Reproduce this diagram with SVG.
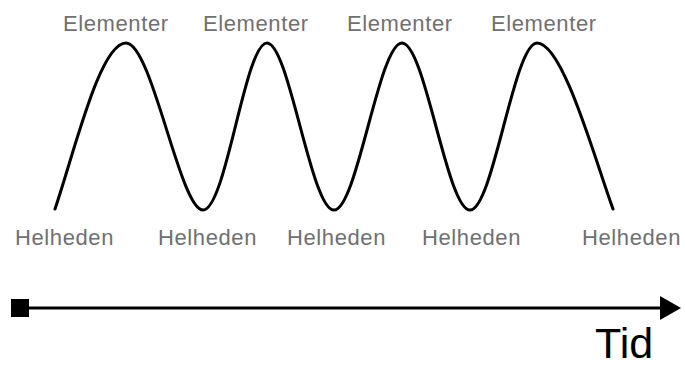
<svg xmlns="http://www.w3.org/2000/svg" width="685" height="370" viewBox="0 0 685 370">
<style>
.lbl{font-family:"Liberation Sans",Arial,sans-serif;font-size:22px;letter-spacing:0.6px;fill:#707070}
.tid{font-family:"Liberation Sans",Arial,sans-serif;font-size:43px;fill:#000}
.wave{fill:none;stroke:#000;stroke-width:3;stroke-linecap:round}
.axis{fill:none;stroke:#000;stroke-width:3}
</style>
<defs>
<marker id="arr" markerWidth="8" markerHeight="8" refX="2" refY="4" orient="auto" markerUnits="strokeWidth">
<path d="M0,0 L7,4 L0,8 Z" fill="#000"/>
</marker>
<marker id="sq" markerWidth="6" markerHeight="6" refX="3" refY="3" orient="auto" markerUnits="strokeWidth">
<rect x="0" y="0" width="6" height="6" fill="#000"/>
</marker>
</defs>
<rect width="685" height="370" fill="#fff"/>
<g id="connectors">
<path id="wave" class="wave" d="M55,209 C75,150 100,43 126,43 C152,43 180,210 203,210 C226,210 245,43 267,43 C289,43 311,210 334,210 C357,210 379,43 402,43 C425,43 447,210 470,210 C493,210 514,43 537,43 C563,43 595,160 613,209"/>
<path id="axis" class="axis" d="M20,308 L666,308" marker-start="url(#sq)" marker-end="url(#arr)"/>
</g>
<g id="elementer1"><text class="lbl" x="63" y="31">Elementer</text></g>
<g id="elementer2"><text class="lbl" x="203" y="31">Elementer</text></g>
<g id="elementer3"><text class="lbl" x="347" y="31">Elementer</text></g>
<g id="elementer4"><text class="lbl" x="491" y="31">Elementer</text></g>
<g id="helheden1"><text class="lbl" x="15" y="245">Helheden</text></g>
<g id="helheden2"><text class="lbl" x="158" y="245">Helheden</text></g>
<g id="helheden3"><text class="lbl" x="287" y="245">Helheden</text></g>
<g id="helheden4"><text class="lbl" x="422" y="245">Helheden</text></g>
<g id="helheden5"><text class="lbl" x="582" y="245">Helheden</text></g>
<g id="tid"><text class="tid" x="595" y="358">Tid</text></g>
</svg>
